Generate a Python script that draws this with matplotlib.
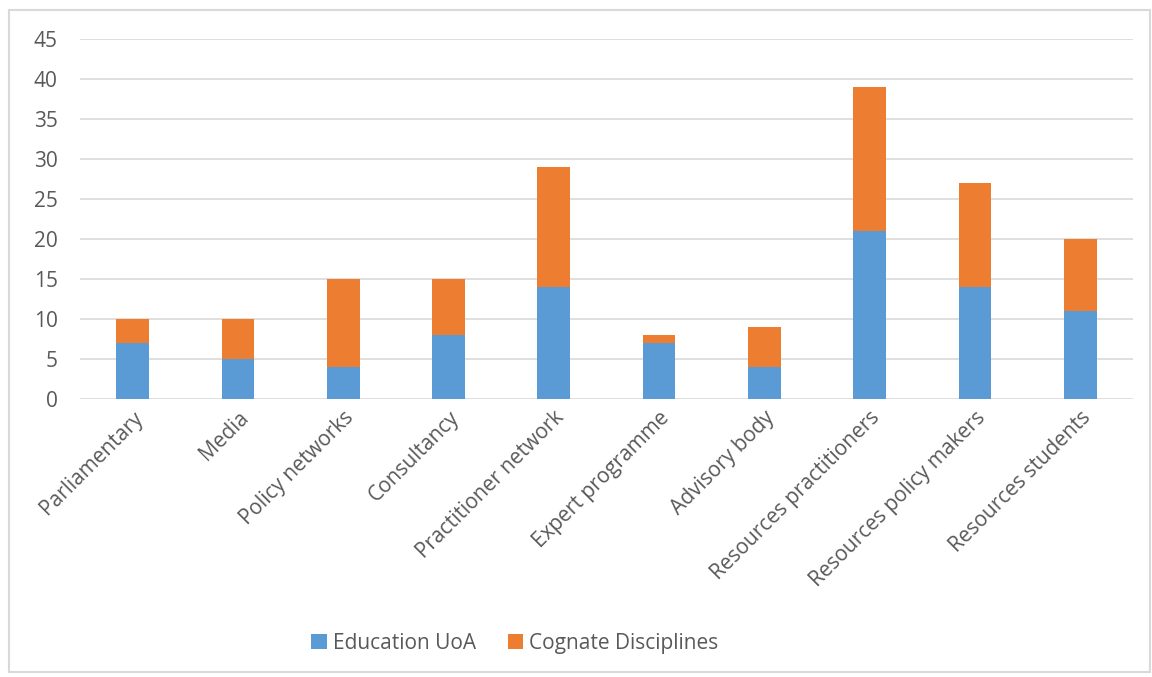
import matplotlib.pyplot as plt
from matplotlib.patches import Rectangle
import numpy as np

# ---------- Data ----------
categories = ["Parliamentary", "Media", "Policy networks", "Consultancy",
              "Practitioner network", "Expert programme", "Advisory body",
              "Resources practitioners", "Resources policy makers",
              "Resources students"]
education_uoa = [7, 5, 4, 8, 14, 7, 4, 21, 14, 11]
cognate = [3, 5, 11, 7, 15, 1, 5, 18, 13, 9]

blue = "#5B9BD5"
orange = "#ED7D31"
text_col = "#595959"
grid_col = "#D9D9D9"
fs = 15

plt.rcParams["font.family"] = ["Open Sans", "DejaVu Sans"]

fig = plt.figure(figsize=(11.52, 6.77), dpi=100)
ax = fig.add_axes([0.0694, 0.4106, 0.9141, 0.5318])

x = np.arange(len(categories))
ax.bar(x, education_uoa, width=0.31, color=blue, label="Education UoA", zorder=3)
ax.bar(x, cognate, width=0.31, bottom=education_uoa, color=orange,
       label="Cognate Disciplines", zorder=3)

ax.set_xlim(-0.5, len(categories) - 0.5)
ax.set_ylim(0, 45)
ax.set_yticks(range(0, 46, 5))
ax.yaxis.grid(True, color=grid_col, linewidth=1.2, zorder=0)
ax.set_axisbelow(True)
for s in ax.spines.values():
    s.set_visible(False)

ax.set_xticks(x)
ax.set_xticklabels(categories, rotation=45, ha="right", rotation_mode="anchor",
                   fontsize=fs, color=text_col)
ax.tick_params(axis="both", length=0, labelsize=fs, labelcolor=text_col)
ax.tick_params(axis="y", pad=16)
ax.tick_params(axis="x", pad=6)

fig.legend(loc="center", bbox_to_anchor=(0.447, 0.05), ncol=2, frameon=False,
           fontsize=fs, labelcolor=text_col, handlelength=0.75,
           handleheight=0.75, handletextpad=0.3, columnspacing=1.5)

# chart border
fig.patches.append(Rectangle((9 / 1152, 5 / 677), 1141 / 1152, 662 / 677,
                             transform=fig.transFigure, fill=False,
                             edgecolor=grid_col, linewidth=1.5))

fig.savefig("out.png", dpi=100)
